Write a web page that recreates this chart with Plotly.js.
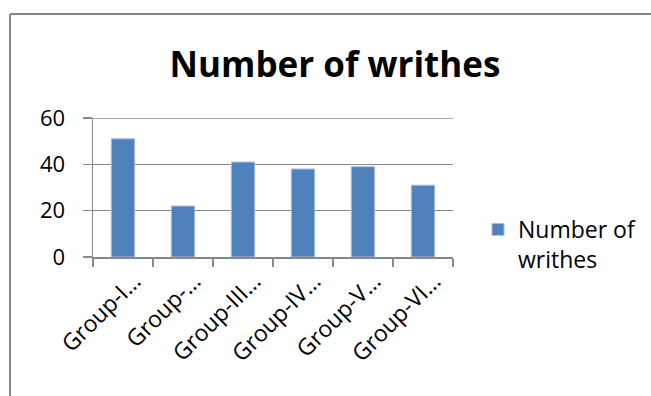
<!DOCTYPE html>
<html>
<head>
<meta charset="utf-8">
<script src="https://cdn.plot.ly/plotly-3.0.1.min.js"></script>
<style>
  html, body { margin: 0; padding: 0; background: #fff; }
  #chart { width: 651px; height: 396px; }
</style>
</head>
<body>
<div id="chart"></div>
<script>
// Writhing counts per treatment group
const groups = ['Group-I…', 'Group-…', 'Group-III…', 'Group-IV…', 'Group-V…', 'Group-VI…'];
const writhes = [51, 22, 41, 38, 39, 31];
const seriesName = 'Number of<br>writhes';
const chartTitle = 'Number of writhes';
const yTicks = [0, 20, 40, 60];

const W = 651, H = 396;
const L = 93, R = 198, T = 118, B = 139;
const plotW = W - L - R, plotH = H - T - B;
// convert pixel positions to paper coordinates for the frame lines
const px = x => (x - L) / plotW;
const py = y => (H - B - y) / plotH;

const FONT = '"Open Sans", "Noto Sans", sans-serif';
const GRID = '#888';

const trace = {
  type: 'bar',
  x: groups,
  y: writhes,
  name: seriesName,
  marker: { color: '#4F81BD', line: { color: '#A9C0DE', width: 1 } },
  width: 0.39,
  showlegend: true
};

const layout = {
  width: W,
  height: H,
  margin: { l: L, r: R, t: T, b: B, pad: 0, autoexpand: false },
  paper_bgcolor: '#fff',
  plot_bgcolor: '#fff',
  font: { family: FONT, color: '#000', size: 22 },
  title: {
    text: '<b>' + chartTitle + '</b>',
    font: { family: FONT, size: 35, color: '#000' },
    x: 335 / W, xanchor: 'center', xref: 'container',
    y: 1 - 65 / H, yanchor: 'middle', yref: 'container'
  },
  xaxis: {
    type: 'category',
    showline: true, linecolor: GRID, linewidth: 1.5,
    ticks: 'outside', tickson: 'boundaries', ticklen: 8, tickcolor: GRID, tickwidth: 1.5,
    tickangle: -45,
    ticklabelshift: 11,
    tickfont: { family: FONT, size: 23, color: '#000' },
    showgrid: false, zeroline: false,
    range: [-0.5, 5.5]
  },
  yaxis: {
    range: [0, 60],
    tickvals: yTicks,
    showline: true, linecolor: GRID, linewidth: 1.5,
    ticks: 'outside', ticklen: 9, tickcolor: GRID, tickwidth: 1.5,
    ticklabelstandoff: 13,
    tickfont: { family: FONT, size: 22, color: '#000' },
    showgrid: true, gridcolor: GRID, gridwidth: 1.5,
    zeroline: false
  },
  legend: {
    x: px(478), xanchor: 'left',
    y: py(208), yanchor: 'top',
    valign: 'top',
    font: { family: FONT, size: 23, color: '#000' },
    itemwidth: 30,
    bgcolor: 'rgba(0,0,0,0)'
  },
  shapes: [
    // top gridline at the axis maximum
    { type: 'line', xref: 'paper', yref: 'y', x0: 0, x1: 1, y0: 60, y1: 60,
      line: { color: GRID, width: 1.5 } },
    // outer chart frame (left and top edges)
    { type: 'line', xref: 'paper', yref: 'paper', x0: px(10), x1: px(10), y0: py(14), y1: py(400),
      line: { color: '#888', width: 2 } },
    { type: 'line', xref: 'paper', yref: 'paper', x0: px(10), x1: px(660), y0: py(14), y1: py(14),
      line: { color: '#888', width: 2 } }
  ],
  bargap: 0.61
};

Plotly.newPlot('chart', [trace], layout, { displayModeBar: false, staticPlot: true });
</script>
</body>
</html>
